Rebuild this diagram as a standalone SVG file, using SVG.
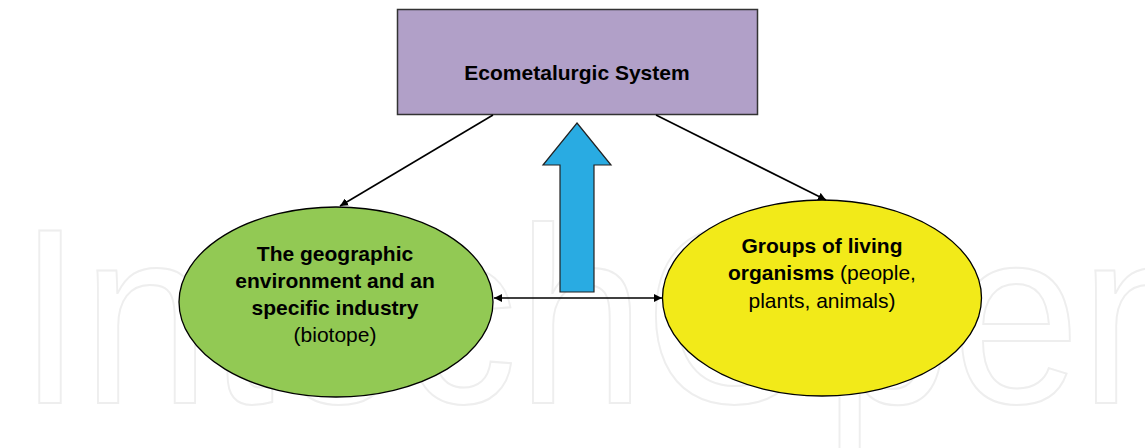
<svg xmlns="http://www.w3.org/2000/svg" width="1145" height="448" viewBox="0 0 1145 448">
<style>
.t{font-family:"Liberation Sans",Arial,sans-serif;font-size:21px;fill:#000;text-anchor:middle}
.b{font-weight:bold}
.n{font-weight:normal}
.c{stroke:#000;stroke-width:1.6;fill:none}
.wm{font-family:"Liberation Sans",Arial,sans-serif;font-size:250px;fill:none;stroke:#eeeeee;stroke-width:2}
</style>
<defs>
<marker id="ah" viewBox="0 0 10 10" refX="10" refY="5" markerWidth="8" markerHeight="8" markerUnits="userSpaceOnUse" orient="auto-start-reverse">
<path d="M0,0 L10,5 L0,10 z" fill="#000"/>
</marker>
</defs>
<rect width="1145" height="448" fill="#fff"/>
<text class="wm" x="18" y="403" textLength="1190" lengthAdjust="spacingAndGlyphs">IntechOpen</text>
<g id="system">
<rect x="397.5" y="9.5" width="360" height="105" fill="#b1a0c8" stroke="#333" stroke-width="1.5"/>
<text class="t b" x="577" y="80">Ecometalurgic System</text>
</g>
<g id="biotope">
<ellipse cx="336" cy="302" rx="157" ry="95" fill="#92c954" stroke="#000" stroke-width="1.3"/>
<text class="t b" x="335" y="261">The geographic</text>
<text class="t b" x="335" y="288">environment and an</text>
<text class="t b" x="335" y="315">specific industry</text>
<text class="t n" x="335" y="342">(biotope)</text>
</g>
<g id="organisms">
<ellipse cx="822" cy="298" rx="159.5" ry="98" fill="#f2ea19" stroke="#000" stroke-width="1.3"/>
<text class="t b" x="822" y="253">Groups of living</text>
<text class="t" x="822" y="280"><tspan class="b">organisms</tspan><tspan class="n"> (people,</tspan></text>
<text class="t n" x="822" y="308">plants, animals)</text>
</g>
<g id="upArrow">
<path d="M577,123 L611,165 L594,165 L594,292 L560,292 L560,165 L543,165 Z" fill="#29abe2" stroke="#222" stroke-width="1.2"/>
</g>
<g id="connectors">
<line class="c" x1="493" y1="115" x2="340" y2="206" marker-end="url(#ah)"/>
<line class="c" x1="656" y1="115" x2="826" y2="200" marker-end="url(#ah)"/>
<line class="c" x1="494" y1="298" x2="662" y2="298" marker-start="url(#ah)" marker-end="url(#ah)"/>
</g>
</svg>
